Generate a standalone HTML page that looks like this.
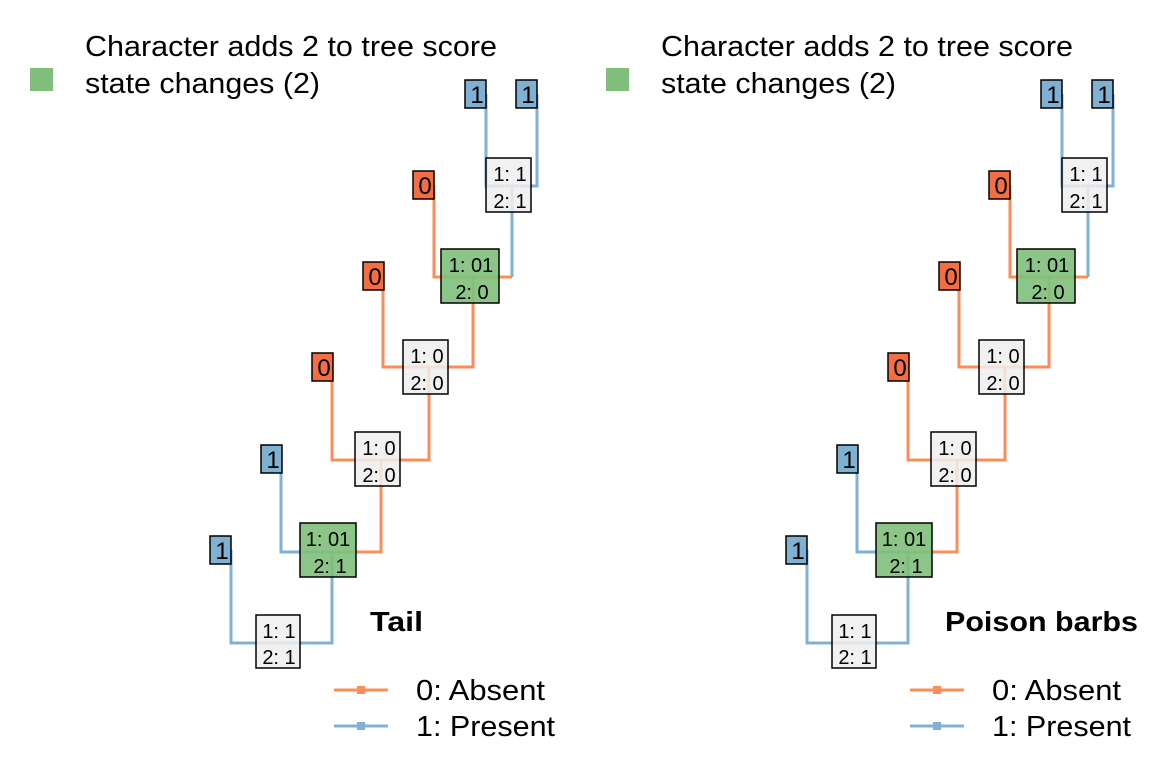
<!DOCTYPE html>
<html><head><meta charset="utf-8"><style>
html,body{margin:0;padding:0;background:#fff;}
svg text{font-family:"Liberation Sans",Arial,sans-serif;fill:#000;}
</style></head><body>
<svg width="1152" height="768" viewBox="0 0 1152 768" xmlns="http://www.w3.org/2000/svg">
<defs>
<g id="tree">
  <rect x="30" y="68" width="23" height="23" fill="#7fbf7b"/>
  <text x="85" y="56" font-size="29" textLength="412" lengthAdjust="spacingAndGlyphs">Character adds 2 to tree score</text>
  <text x="85" y="93" font-size="29" textLength="235" lengthAdjust="spacingAndGlyphs">state changes (2)</text>
  <g fill="none" stroke-width="3" stroke-linejoin="miter">
    <path d="M486 94 V186 H537 V94" stroke="#80b1d3"/>
    <path d="M512 186 V277" stroke="#80b1d3"/>
    <path d="M434 185 V277 H512" stroke="#fc8d59"/>
    <path d="M473 277 V367 H383 V276" stroke="#fc8d59"/>
    <path d="M429 367 V460 H332 V367" stroke="#fc8d59"/>
    <path d="M381 460 V552 H340" stroke="#fc8d59"/>
    <path d="M340 552 H281 V459" stroke="#80b1d3"/>
    <path d="M332 552 V643 H231 V550" stroke="#80b1d3"/>
  </g>
  <g stroke="#000" stroke-width="1.5">
    <rect x="465" y="80" width="21" height="28" fill="#80b1d3"/>
    <rect x="516" y="80" width="21" height="28" fill="#80b1d3"/>
    <rect x="413" y="171" width="21" height="28" fill="#f46d43"/>
    <rect x="363" y="262" width="21" height="28" fill="#f46d43"/>
    <rect x="312" y="353" width="21" height="28" fill="#f46d43"/>
    <rect x="261" y="445" width="21" height="28" fill="#80b1d3"/>
    <rect x="210" y="536" width="21" height="28" fill="#80b1d3"/>
    <rect x="486" y="158" width="45" height="54" fill="#eeeeee" fill-opacity="0.85"/>
    <rect x="441" y="249" width="58" height="54" fill="#7fbf7b" fill-opacity="0.9"/>
    <rect x="403" y="340" width="45" height="54" fill="#eeeeee" fill-opacity="0.85"/>
    <rect x="355" y="432" width="45" height="54" fill="#eeeeee" fill-opacity="0.85"/>
    <rect x="300" y="523" width="56" height="54" fill="#7fbf7b" fill-opacity="0.9"/>
    <rect x="256" y="615" width="44" height="53" fill="#eeeeee" fill-opacity="0.85"/>
  </g>
  <g font-size="24" text-anchor="middle">
    <text x="477" y="103">1</text><text x="528" y="103">1</text>
    <text x="425" y="194">0</text><text x="375" y="285">0</text><text x="324" y="376">0</text>
    <text x="273" y="468">1</text><text x="222" y="559">1</text>
  </g>
  <g font-size="20" text-anchor="middle">
    <text x="510" y="181">1: 1</text><text x="510" y="208">2: 1</text>
    <text x="471" y="272">1: 01</text><text x="472" y="299">2: 0</text>
    <text x="427" y="363">1: 0</text><text x="427" y="390">2: 0</text>
    <text x="379" y="455">1: 0</text><text x="379" y="482">2: 0</text>
    <text x="328" y="546">1: 01</text><text x="330" y="573">2: 1</text>
    <text x="279" y="638">1: 1</text><text x="279" y="664">2: 1</text>
  </g>
  <path d="M334 690 H388" stroke="#fc8d59" stroke-width="3"/>
  <rect x="357" y="686" width="8" height="8" fill="#fc8d59"/>
  <path d="M334 726 H388" stroke="#80b1d3" stroke-width="3"/>
  <rect x="357" y="722" width="8" height="8" fill="#80b1d3"/>
  <text x="416" y="700" font-size="29" textLength="129" lengthAdjust="spacingAndGlyphs">0: Absent</text>
  <text x="416" y="736" font-size="29" textLength="139" lengthAdjust="spacingAndGlyphs">1: Present</text>
</g>
</defs>
<use href="#tree"/>
<use href="#tree" x="576"/>
<text x="370" y="631" font-size="28" font-weight="bold" textLength="53" lengthAdjust="spacingAndGlyphs">Tail</text>
<text x="945" y="631" font-size="28" font-weight="bold" textLength="193" lengthAdjust="spacingAndGlyphs">Poison barbs</text>
</svg>
</body></html>
